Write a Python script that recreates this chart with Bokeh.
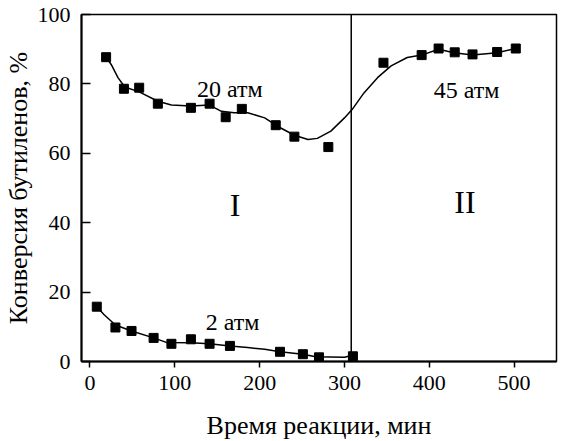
from bokeh.plotting import figure
from bokeh.models import Span, Range1d, FixedTicker
from bokeh.core.properties import value
from bokeh.embed import file_html
from bokeh.resources import INLINE

FONT = "'Liberation Serif', 'Times New Roman', serif"

# 20 atm / 45 atm measured points
hi_x = [19, 40, 58, 80, 119, 141, 160, 179, 219, 241, 281, 346, 391, 411, 430, 451, 480, 502]
hi_y = [87.7, 78.6, 78.9, 74.3, 73.1, 74.3, 70.4, 72.8, 68.1, 64.8, 61.8, 86.1, 88.3, 90.2, 89.1, 88.5, 89.2, 90.2]

# smooth curve through 20/45 atm data
hc_x = [19, 25, 33, 41, 58, 80, 96, 119, 141, 155, 170, 186, 206, 221, 241, 257, 268, 284, 300, 309, 323, 339, 355, 374, 391, 411, 429, 451, 480, 502]
hc_y = [87.7, 85.6, 81.8, 79.1, 77.7, 75.0, 73.9, 73.6, 73.9, 72.1, 71.7, 71.7, 70.2, 67.8, 65.2, 64.0, 64.3, 66.4, 70.2, 72.6, 77.4, 81.8, 85.2, 87.6, 88.3, 90.0, 89.0, 88.3, 89.0, 90.2]

# 2 atm measured points
lo_x = [8, 30, 49, 75, 96, 119, 141, 165, 224, 251, 270, 310]
lo_y = [15.8, 9.8, 8.8, 6.8, 5.1, 6.4, 5.1, 4.5, 2.8, 2.1, 1.2, 1.5]

# 2 atm curve
lc_x = [8, 17, 30, 49, 75, 90, 119, 141, 165, 186, 206, 224, 251, 266, 300, 310]
lc_y = [15.8, 13.4, 10.5, 8.8, 6.8, 5.5, 5.4, 5.1, 4.5, 4.0, 3.5, 2.8, 2.1, 1.4, 1.2, 1.8]

x_ticks = [0, 100, 200, 300, 400, 500]
y_ticks = [0, 20, 40, 60, 80, 100]
boundary_x = 308

labels_txt = ["20 атм", "45 атм", "2 атм"]
labels_x = [165, 444, 168]
labels_y = [78.6, 78.1, 11.5]

zone_txt = ["I", "II"]
zone_x = [171, 442]
zone_y = [45, 46]

p = figure(width=558, height=445, output_backend="svg", toolbar_location=None,
           x_range=Range1d(-10, 550), y_range=Range1d(0, 100),
           min_border_left=80, min_border_right=2, min_border_top=14, min_border_bottom=84,
           x_axis_label="Время реакции, мин", y_axis_label="Конверсия бутиленов, %")

p.grid.visible = False
p.outline_line_color = "black"
p.outline_line_width = 1.5
p.background_fill_color = "white"
p.border_fill_color = "white"

for ax in (p.xaxis[0], p.yaxis[0]):
    ax.axis_line_width = 2
    ax.major_tick_line_width = 1.5
    ax.minor_tick_line_color = None
    ax.major_label_text_font = FONT
    ax.major_label_text_font_size = "22px"
    ax.major_label_text_color = "black"
    ax.axis_label_text_font = FONT
    ax.axis_label_text_font_size = "26px"
    ax.axis_label_text_font_style = "normal"
    ax.axis_label_text_color = "black"

p.xaxis.ticker = FixedTicker(ticks=x_ticks)
p.yaxis.ticker = FixedTicker(ticks=y_ticks)
p.xaxis.major_tick_in = 0
p.xaxis.major_tick_out = 6
p.xaxis.major_label_standoff = 8
p.xaxis.axis_label_standoff = 18
p.yaxis.major_tick_in = 9
p.yaxis.major_tick_out = 0
p.yaxis.major_label_standoff = 11
p.yaxis.axis_label_standoff = 2

p.add_layout(Span(location=boundary_x, dimension="height", line_color="black", line_width=1.5))

p.line(hc_x, hc_y, line_color="black", line_width=1.5)
p.line(lc_x, lc_y, line_color="black", line_width=1.5)
p.scatter(hi_x, hi_y, marker="square", size=9, fill_color="black", line_color="black")
p.scatter(lo_x, lo_y, marker="square", size=9, fill_color="black", line_color="black")

p.text(labels_x, labels_y, text=labels_txt, text_font=value(FONT), text_font_size="24px",
       text_align="center", text_baseline="middle", text_color="black")
p.text(zone_x, zone_y, text=zone_txt, text_font=value(FONT), text_font_size="32px",
       text_align="center", text_baseline="middle", text_color="black")

open("out.html", "w").write(file_html(p, INLINE))
